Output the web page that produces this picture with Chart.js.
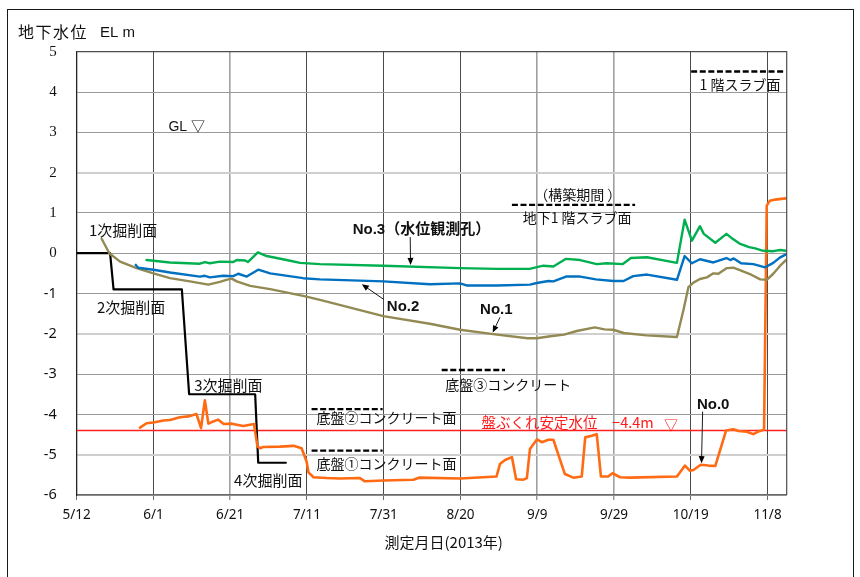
<!DOCTYPE html>
<html>
<head>
<meta charset="utf-8">
<script src="https://cdn.jsdelivr.net/npm/chart.js@4/dist/chart.umd.min.js"></script>
<style>
  html, body { margin: 0; padding: 0; background: #fff; }
  #wrap { position: relative; width: 860px; height: 577px; overflow: hidden; }
  #frame { position: absolute; left: 7px; top: 9px; width: 847px; height: 590px; border: 1.5px solid #1a1a1a; box-sizing: border-box; }
  #c { position: absolute; left: 0; top: 0; }
</style>
</head>
<body>
<div id="wrap">
  <div id="frame"></div>
  <canvas id="c" width="860" height="577"></canvas>
</div>
<script>
// Groundwater level (EL m) against days elapsed since 2013-05-12
const tickLabels = ['5/12', '6/1', '6/21', '7/11', '7/31', '8/20', '9/9', '9/29', '10/19', '11/8'];
const yTicks = [5, 4, 3, 2, 1, 0, -1, -2, -3, -4, -5, -6];

// Excavation level steps (1st to 4th cut)
const excavDay   = [0, 8.7, 9.6, 27.4, 29.3, 46.5, 47.3, 54.5];
const excavLevel = [0, 0, -0.9, -0.9, -3.5, -3.5, -5.2, -5.2];

// Heave-safe water level
const stableLevel = -4.4;

// No.0 well
const no0Day = [16.5, 18.2, 20.0, 22.6, 24.3, 26.9, 29.1, 31.2, 32.4, 33.4, 34.3, 35.2, 36.9, 38.3, 40.4, 43.4, 46.2,
  47.1, 47.8, 48.6, 53.0, 56.5, 58.6, 59.9, 60.4, 61.7, 65.1, 68.6, 73.8, 75.1, 80.0, 87.7, 89.2, 99.9,
  109.4, 110.3, 111.6, 113.4, 114.5, 116.4, 117.3, 118.1, 119.9, 121.2, 122.9, 124.2, 127.2, 129.4, 131.6,
  132.5, 134.2, 135.5, 136.6, 138.5, 139.6, 141.6, 144.2, 156.4, 158.5, 159.8, 160.7, 162.6, 164.6, 166.4,
  169.2, 171.1, 172.4, 174.6, 176.3, 178.0, 179.1, 179.8, 180.6, 182.0, 184.8];
const no0Level = [-4.33, -4.22, -4.20, -4.15, -4.14, -4.07, -4.05, -3.99, -4.34, -3.65, -4.23, -4.19, -4.13, -4.24, -4.23, -4.29, -4.24,
  -4.80, -4.84, -4.81, -4.80, -4.78, -4.84, -5.17, -5.44, -5.56, -5.58, -5.59, -5.58, -5.66, -5.64, -5.62, -5.57, -5.59,
  -5.54, -5.23, -5.13, -5.06, -5.61, -5.62, -5.58, -4.86, -4.62, -4.69, -4.63, -4.63, -5.48, -5.57, -5.54,
  -4.57, -4.53, -4.49, -5.54, -5.54, -5.46, -5.56, -5.57, -5.54, -5.27, -5.40, -5.38, -5.25, -5.27, -5.28,
  -4.40, -4.37, -4.41, -4.43, -4.49, -4.41, -4.38, 1.18, 1.30, 1.33, 1.36];

// No.1 well
const no1Day = [6.5, 8.5, 11.3, 15.6, 20.0, 24.3, 29.5, 34.3, 37.3, 39.0, 40.4, 41.7, 45.2, 50.4, 59.0, 63.4, 79.9,
  92.0, 99.9, 109.5, 117.5, 119.9, 123.4, 127.0, 130.3, 135.0, 137.5, 139.8, 142.5, 148.5, 156.4, 158.1, 159.4,
  160.7, 162.4, 164.2, 165.9, 167.2, 169.4, 171.1, 173.3, 175.9, 178.1, 179.8, 181.5, 183.3, 184.8];
const no1Level = [0.36, 0.0, -0.21, -0.37, -0.50, -0.62, -0.70, -0.78, -0.71, -0.66, -0.63, -0.70, -0.81, -0.89, -1.06, -1.16, -1.56,
  -1.75, -1.90, -2.02, -2.11, -2.11, -2.06, -2.02, -1.93, -1.84, -1.89, -1.90, -1.98, -2.04, -2.08, -1.41, -0.84,
  -0.73, -0.64, -0.60, -0.50, -0.51, -0.37, -0.36, -0.44, -0.54, -0.65, -0.66, -0.51, -0.31, -0.17];

// No.2 well
const no2Day = [15.4, 16.0, 20.0, 24.3, 32.1, 33.4, 34.7, 38.2, 40.8, 42.1, 44.3, 47.3, 50.4, 59.0, 63.4, 79.9, 92.0,
  99.9, 101.6, 109.5, 118.1, 119.9, 122.9, 124.2, 127.5, 131.2, 135.3, 139.8, 142.5, 145.0, 148.6, 156.4, 158.4,
  160.3, 162.4, 165.9, 169.3, 170.3, 171.2, 173.1, 176.3, 179.4, 181.5, 183.2, 184.8];
const no2Level = [-0.29, -0.36, -0.41, -0.48, -0.58, -0.56, -0.60, -0.56, -0.57, -0.51, -0.58, -0.41, -0.50, -0.62, -0.65, -0.70, -0.77,
  -0.75, -0.80, -0.80, -0.78, -0.74, -0.69, -0.70, -0.58, -0.58, -0.65, -0.69, -0.69, -0.57, -0.53, -0.66, -0.07,
  -0.25, -0.15, -0.23, -0.12, -0.17, -0.13, -0.25, -0.27, -0.35, -0.24, -0.11, -0.03];

// No.3 observation well
const no3Day = [18.2, 24.3, 32.1, 33.4, 34.7, 37.3, 40.8, 41.7, 43.9, 44.6, 47.2, 49.5, 54.7, 58.2, 63.4, 79.9, 99.9,
  109.5, 118.0, 121.6, 124.2, 127.5, 131.2, 135.5, 138.1, 142.3, 144.4, 148.6, 156.4, 158.4, 160.3, 162.4, 163.4,
  166.4, 169.3, 171.0, 172.7, 175.2, 176.8, 178.9, 181.5, 183.3, 184.8];
const no3Level = [-0.17, -0.23, -0.26, -0.22, -0.25, -0.21, -0.22, -0.17, -0.18, -0.22, 0.02, -0.07, -0.17, -0.24, -0.27, -0.31, -0.37,
  -0.39, -0.39, -0.31, -0.33, -0.14, -0.17, -0.27, -0.25, -0.27, -0.12, -0.10, -0.24, 0.83, 0.31, 0.67, 0.48,
  0.26, 0.48, 0.35, 0.24, 0.15, 0.12, 0.06, 0.05, 0.08, 0.06];

const pts = (xs, ys) => xs.map((d, i) => ({ x: d, y: ys[i] }));

const JP = '"Noto Sans CJK JP"';

// Text, dashed marker lines and pointer arrows, anchored in day / level units
const notes = [
  { t: 'GL ▽', d: 23.9, v: 3.14, font: '14px "Liberation Sans", ' + JP },
  { t: '1次掘削面', d: 3.2, v: 0.58, font: '15px ' + JP },
  { t: '2次掘削面', d: 5.3, v: -1.33, font: '15px ' + JP },
  { t: '3次掘削面', d: 30.6, v: -3.29, font: '15px ' + JP },
  { t: '4次掘削面', d: 41.0, v: -5.63, font: '15px ' + JP },
  { t: '底盤②コンクリート面', d: 62.5, v: -4.09 },
  { t: '底盤①コンクリート面', d: 62.5, v: -5.23 },
  { t: '底盤③コンクリート', d: 96.0, v: -3.27 },
  { t: '（構築期間 ）', d: 119.2, v: 1.45 },
  { t: '地下1 階スラブ面', d: 116.2, v: 0.87 },
  { t: '1 階スラブ面', d: 162.3, v: 4.18 },
  { t: '盤ぶくれ安定水位　−4.4m', d: 105.5, v: -4.19, color: '#ff1a1a', font: '14.5px ' + JP },
  { t: '▽', d: 153.0, v: -4.25, color: '#ff1a1a', font: '14px ' + JP },
  { t: 'No.0', d: 161.6, v: -3.76, font: 'bold 15px "Liberation Sans"' },
  { t: 'No.1', d: 105.1, v: -1.41, font: 'bold 15px "Liberation Sans"' },
  { t: 'No.2', d: 80.8, v: -1.33, font: 'bold 15px "Liberation Sans"' },
  { t: 'No.3（水位観測孔）', d: 71.9, v: 0.58, font: 'bold 15px "Liberation Sans", ' + JP }
];
const dashes = [
  { d0: 61.2, d1: 79.7, v: -3.87 },
  { d0: 61.2, d1: 79.7, v: -4.90 },
  { d0: 95.1, d1: 111.6, v: -2.90 },
  { d0: 113.4, d1: 145.5, v: 1.20 },
  { d0: 160.1, d1: 184.2, v: 4.51 }
];
const arrows = [
  { d0: 163.1, v0: -3.93, d1: 162.8, v1: -5.21 },
  { d0: 110.3, v0: -1.59, d1: 108.4, v1: -1.97 },
  { d0: 79.9, v0: -1.14, d1: 74.3, v1: -0.77 },
  { d0: 86.9, v0: 0.40, d1: 87.0, v1: -0.29 }
];

const overlay = {
  id: 'overlay',
  afterDatasetsDraw(chart) {
    const { ctx, chartArea: a, scales: { x, y } } = chart;
    const X = d => x.getPixelForValue(d), Y = v => y.getPixelForValue(v);
    ctx.save();

    // plot frame (top / right)
    ctx.strokeStyle = '#4d4d4d';
    ctx.lineWidth = 1.2;
    ctx.beginPath();
    ctx.moveTo(a.left, a.top); ctx.lineTo(a.right, a.top); ctx.lineTo(a.right, a.bottom);
    ctx.stroke();

    // dashed marker lines
    ctx.strokeStyle = '#000';
    ctx.lineWidth = 2.4;
    ctx.setLineDash([6, 2.6]);
    dashes.forEach(s => {
      ctx.beginPath(); ctx.moveTo(X(s.d0), Y(s.v)); ctx.lineTo(X(s.d1), Y(s.v)); ctx.stroke();
    });
    ctx.setLineDash([]);

    // pointer arrows
    ctx.lineWidth = 0.9;
    ctx.fillStyle = '#000';
    arrows.forEach(s => {
      const x0 = X(s.d0), y0 = Y(s.v0), x1 = X(s.d1), y1 = Y(s.v1);
      const ang = Math.atan2(y1 - y0, x1 - x0), L = 7, W = 3;
      ctx.beginPath(); ctx.moveTo(x0, y0);
      ctx.lineTo(x1 - Math.cos(ang) * L * 0.8, y1 - Math.sin(ang) * L * 0.8); ctx.stroke();
      ctx.beginPath();
      ctx.moveTo(x1, y1);
      ctx.lineTo(x1 - Math.cos(ang) * L + Math.sin(ang) * W, y1 - Math.sin(ang) * L - Math.cos(ang) * W);
      ctx.lineTo(x1 - Math.cos(ang) * L - Math.sin(ang) * W, y1 - Math.sin(ang) * L + Math.cos(ang) * W);
      ctx.closePath(); ctx.fill();
    });

    // labels
    ctx.textBaseline = 'middle';
    ctx.textAlign = 'left';
    notes.forEach(n => {
      ctx.font = n.font || ('14px ' + JP);
      ctx.fillStyle = n.color || '#111';
      ctx.fillText(n.t, X(n.d), Y(n.v));
    });

    // axis title and chart title
    ctx.font = '15px ' + JP;
    ctx.fillStyle = '#111';
    ctx.textAlign = 'center';
    ctx.fillText('測定月日(2013年)', (a.left + a.right) / 2 + 12, a.bottom + 47);
    ctx.textAlign = 'left';
    ctx.font = '16px ' + JP;
    ctx.letterSpacing = '1.5px';
    ctx.fillText('地下水位', 18, 32);
    ctx.letterSpacing = '0px';
    ctx.font = '15px "Liberation Sans"';
    ctx.fillText('EL m', 100, 33);
    ctx.restore();
  }
};

const line = (data, color, width) => ({
  data, borderColor: color, borderWidth: width, pointRadius: 0, tension: 0,
  borderJoinStyle: 'round', borderCapStyle: 'round', fill: false
});

// softer rendering for a few grid lines
const lightX = [2, 6, 7];
const lightY = [2, -2, -5];

new Chart(document.getElementById('c'), {
  type: 'line',
  data: {
    datasets: [
      line(pts(no3Day, no3Level), '#00b050', 2.4),
      line(pts(no2Day, no2Level), '#0070c0', 2.4),
      line(pts(no1Day, no1Level), '#938953', 2.4),
      line(pts(no0Day, no0Level), '#ff6a13', 2.6),
      line(pts(excavDay, excavLevel), '#000000', 2.2),
      line([{ x: 0, y: stableLevel }, { x: 185, y: stableLevel }], '#ff2020', 1.6)
    ]
  },
  options: {
    responsive: false,
    animation: false,
    devicePixelRatio: 1,
    layout: { padding: { left: 0, top: 51.7, right: 73.3, bottom: 0 } },
    plugins: { legend: { display: false }, tooltip: { enabled: false }, title: { display: false } },
    scales: {
      x: {
        type: 'linear', min: 0, max: 185,
        afterFit: s => { s.height = 82; },
        afterBuildTicks: s => { s.ticks = tickLabels.map((_, i) => ({ value: i * 20 })); },
        ticks: {
          padding: 7, maxRotation: 0, autoSkip: false,
          color: '#111', font: { family: '"Noto Sans", "Liberation Sans"', size: 13.5 },
          callback: v => tickLabels[Math.round(v / 20)]
        },
        grid: {
          color: c => lightX.includes(c.index) ? '#a0a0a0' : '#4a4a4a',
          lineWidth: c => lightX.includes(c.index) ? 1.6 : 1,
          tickLength: 5, drawTicks: true, tickColor: '#6a6a6a', tickWidth: 1
        },
        border: { display: true, color: '#6a6a6a', width: 1.2 }
      },
      y: {
        type: 'linear', min: -6, max: 5,
        afterFit: s => { s.width = 76.7; },
        afterBuildTicks: s => { s.ticks = yTicks.map(v => ({ value: v })); },
        ticks: {
          padding: 20, color: '#111',
          font: c => (c.tick && c.tick.value < 0)
            ? { family: '"Noto Sans", "Liberation Sans"', size: 14.5 }
            : { family: '"Liberation Serif"', size: 15 },
          callback: v => String(v)
        },
        grid: {
          color: c => lightY.includes(c.tick && c.tick.value) ? '#cfcfcf' : '#999999',
          lineWidth: c => lightY.includes(c.tick && c.tick.value) ? 2 : 1,
          drawTicks: false
        },
        border: { display: true, color: '#222', width: 1.3 }
      }
    }
  },
  plugins: [overlay]
});
</script>
</body>
</html>
